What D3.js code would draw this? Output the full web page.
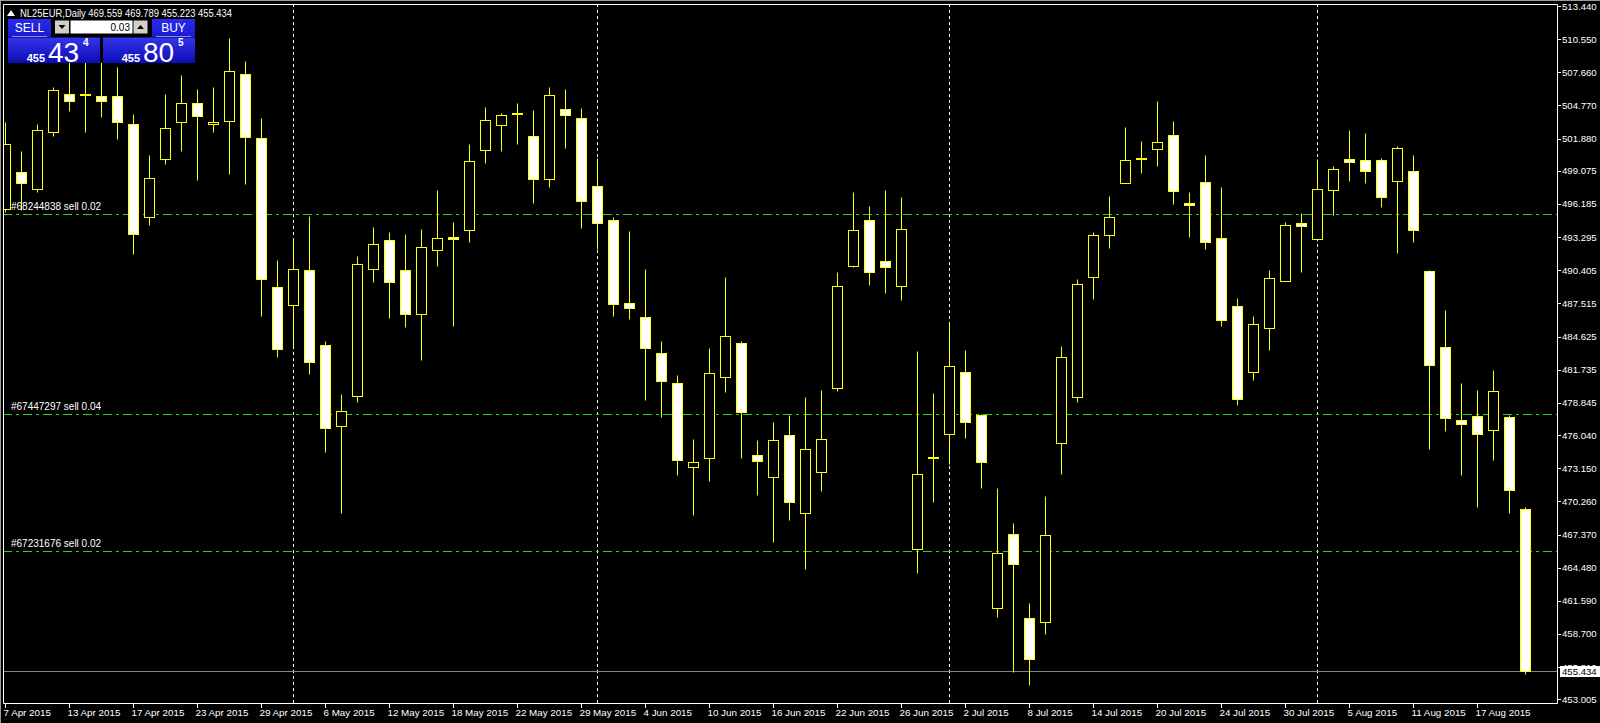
<!DOCTYPE html>
<html><head><meta charset="utf-8">
<script src="https://cdn.jsdelivr.net/npm/d3@7"></script>
<style>html,body{margin:0;padding:0;background:#000;overflow:hidden}</style>
</head><body>
<svg id="c" width="1600" height="723"></svg>
<script>
const dates = [
"2015-04-07","2015-04-08","2015-04-09","2015-04-10","2015-04-13","2015-04-14","2015-04-15","2015-04-16","2015-04-17",
"2015-04-20","2015-04-21","2015-04-22","2015-04-23","2015-04-24","2015-04-27","2015-04-28","2015-04-29","2015-04-30",
"2015-05-04","2015-05-05","2015-05-06","2015-05-07","2015-05-08","2015-05-11","2015-05-12","2015-05-13","2015-05-14",
"2015-05-15","2015-05-18","2015-05-19","2015-05-20","2015-05-21","2015-05-22","2015-05-26","2015-05-27","2015-05-28",
"2015-05-29","2015-06-01","2015-06-02","2015-06-03","2015-06-04","2015-06-05","2015-06-08","2015-06-09","2015-06-10",
"2015-06-11","2015-06-12","2015-06-15","2015-06-16","2015-06-17","2015-06-18","2015-06-19","2015-06-22","2015-06-23",
"2015-06-24","2015-06-25","2015-06-26","2015-06-29","2015-06-30","2015-07-01","2015-07-02","2015-07-03","2015-07-06",
"2015-07-07","2015-07-08","2015-07-09","2015-07-10","2015-07-13","2015-07-14","2015-07-15","2015-07-16","2015-07-17",
"2015-07-20","2015-07-21","2015-07-22","2015-07-23","2015-07-24","2015-07-27","2015-07-28","2015-07-29","2015-07-30",
"2015-07-31","2015-08-03","2015-08-04","2015-08-05","2015-08-06","2015-08-07","2015-08-10","2015-08-11","2015-08-12",
"2015-08-13","2015-08-14","2015-08-17","2015-08-18","2015-08-19","2015-08-20"];
const open = [495.72,498.94,497.46,502.49,505.74,505.74,505.57,505.57,503.13,495.02,500.07,503.30,504.96,503.13,503.39,507.48,
501.90,488.92,487.41,490.40,483.86,476.80,479.42,490.54,493.01,490.40,486.62,492.20,493.28,493.89,500.86,503.04,
504.06,502.08,498.33,504.43,503.65,497.72,494.76,487.52,486.30,483.16,480.55,473.23,474.01,481.07,484.04,474.27,
472.35,476.02,469.22,472.79,480.11,490.75,494.76,491.18,489.00,466.08,474.05,476.10,481.51,477.76,460.94,467.39,
460.06,459.74,475.39,479.33,489.85,493.51,498.04,500.14,500.95,502.17,496.30,498.07,493.19,487.26,481.57,485.34,
489.50,494.49,493.17,497.42,500.08,499.99,499.99,498.22,499.04,490.35,483.70,477.34,477.68,476.52,477.58,469.559];
const high = [503.36,500.80,503.13,506.38,508.60,508.60,508.60,508.12,504.03,500.45,505.77,507.43,506.21,506.38,510.65,508.65,
503.68,491.30,493.19,495.13,484.24,479.62,491.65,494.18,493.74,493.57,494.00,497.40,494.61,501.41,504.64,504.11,
504.99,504.38,506.38,506.21,504.55,500.19,495.05,493.83,490.52,484.24,481.28,475.70,483.63,489.82,484.24,475.61,
477.18,477.79,479.36,479.97,490.25,497.23,496.01,497.40,496.79,483.37,479.71,485.90,483.45,477.85,471.43,468.37,
461.40,470.76,483.80,489.64,493.74,496.88,502.89,501.67,505.16,503.39,497.20,500.45,497.66,487.99,486.39,490.40,
494.61,495.40,500.11,499.50,502.62,502.37,500.20,501.24,500.45,490.39,486.94,480.58,479.97,481.71,477.83,469.789];
const low = [495.51,495.66,497.26,502.11,504.32,502.49,503.79,501.82,491.85,494.38,499.70,500.83,498.30,502.49,498.83,497.95,
486.45,482.87,483.74,481.39,474.59,469.25,478.95,489.41,486.27,485.49,482.61,490.81,485.58,492.90,499.78,500.83,
501.44,496.30,497.69,501.09,494.12,492.26,486.45,486.19,479.13,477.64,472.59,469.07,472.06,479.82,474.07,470.84,
466.72,468.67,464.39,471.19,479.91,490.70,489.15,488.45,487.84,464.05,470.23,473.55,475.81,471.45,460.21,455.36,
454.25,458.67,472.65,478.90,487.90,492.37,498.00,498.91,499.52,496.21,493.33,492.29,485.58,478.68,480.87,483.48,
489.45,490.21,492.96,495.25,498.22,497.97,495.95,491.95,492.90,474.86,476.42,472.60,469.73,473.89,469.21,455.223];
const close = [501.38,497.98,502.63,506.09,505.13,505.65,505.13,503.30,493.54,498.42,502.78,504.96,503.82,503.30,507.74,501.99,
489.67,483.51,490.49,482.38,476.63,478.11,490.92,492.67,489.41,486.62,492.40,493.19,493.10,499.90,503.47,503.91,
504.10,498.39,505.65,503.91,496.41,494.50,487.44,487.09,483.60,480.72,473.84,473.66,481.42,484.65,478.02,473.75,
475.60,470.18,474.80,475.67,489.00,493.89,490.22,490.66,493.97,472.62,474.10,482.03,477.15,473.66,465.73,464.77,
456.49,467.30,482.82,489.18,493.45,495.02,499.99,500.18,501.56,497.29,496.07,492.90,486.10,479.21,485.69,489.70,
494.32,494.24,497.45,499.19,499.87,499.10,496.75,501.03,493.94,482.11,477.55,477.03,476.09,479.88,471.23,455.434];
const priceTicks = ["513.440","510.550","507.660","504.770","501.880","499.075","496.185","493.295","490.405","487.515",
"484.625","481.735","478.845","476.040","473.150","470.260","467.370","464.480","461.590","458.700","455.810","453.005"];
const dateTicks = ["7 Apr 2015","13 Apr 2015","17 Apr 2015","23 Apr 2015","29 Apr 2015","6 May 2015","12 May 2015",
"18 May 2015","22 May 2015","29 May 2015","4 Jun 2015","10 Jun 2015","16 Jun 2015","22 Jun 2015","26 Jun 2015",
"2 Jul 2015","8 Jul 2015","14 Jul 2015","20 Jul 2015","24 Jul 2015","30 Jul 2015","5 Aug 2015","11 Aug 2015","17 Aug 2015"];
const orderLevels = [495.28, 477.85, 465.91];
const orderLabels = ["#68244838 sell 0.02", "#67447297 sell 0.04", "#67231676 sell 0.02"];
const symbolTitle = "NL25EUR,Daily";
const bid = 455.434;
const bidText = "455.434";
const lotText = "0.03";
const sellQuote = ["455", "43", "4"];
const buyQuote = ["455", "80", "5"];

const svg = d3.select("#c");
const W = 1600, H = 723;
const L = 3, T = 4, R = 1557, B = 703;
const font = "'Liberation Sans', Arial, sans-serif";
const parse = d3.timeParse("%Y-%m-%d");
const fmt = d3.timeFormat("%-d %b %Y");

const x = d3.scalePoint().domain(dates).range([5.5, 1525.5]);
const y = d3.scaleLinear().domain([453.005, 513.44]).range([699.3, 6]);
const py = v => Math.round(y(v)) + 0.5;

svg.append("rect").attr("width", W).attr("height", H).attr("fill", "#000");

const defs = svg.append("defs");
defs.append("clipPath").attr("id", "plot").append("rect")
  .attr("x", L + 1).attr("y", T + 1).attr("width", R - L - 1).attr("height", B - T - 1);
const g1 = defs.append("linearGradient").attr("id", "qg").attr("x1", 0).attr("y1", 0).attr("x2", 0).attr("y2", 1);
g1.append("stop").attr("offset", "0").attr("stop-color", "#3434ec");
g1.append("stop").attr("offset", "1").attr("stop-color", "#0c0cb4");
const g2 = defs.append("linearGradient").attr("id", "bg").attr("x1", 0).attr("y1", 0).attr("x2", 0).attr("y2", 1);
g2.append("stop").attr("offset", "0").attr("stop-color", "#2a2aee");
g2.append("stop").attr("offset", "1").attr("stop-color", "#1a1ad2");

// window edge
svg.append("line").attr("x1", 0).attr("x2", W).attr("y1", 0.5).attr("y2", 0.5).attr("stroke", "#9a9a9a");
svg.append("line").attr("x1", 0.5).attr("x2", 0.5).attr("y1", 0).attr("y2", H).attr("stroke", "#9a9a9a");

const plot = svg.append("g").attr("clip-path", "url(#plot)");

// period separators (first bar of each month)
const sepIdx = dates.map((d, i) => i).filter(i => i > 0 && dates[i].slice(5, 7) !== dates[i - 1].slice(5, 7));
plot.selectAll(".sep").data(sepIdx).join("line")
  .attr("x1", i => x(dates[i])).attr("x2", i => x(dates[i]))
  .attr("y1", T).attr("y2", B)
  .attr("stroke", "#fff").attr("stroke-dasharray", "3,3");

// order lines
plot.selectAll(".ord").data(orderLevels).join("line")
  .attr("x1", L).attr("x2", R).attr("y1", d => py(d)).attr("y2", d => py(d))
  .attr("stroke", "#32cd32").attr("stroke-dasharray", "9,4,3,4");

// bid line
plot.append("line").attr("x1", L).attr("x2", R).attr("y1", py(bid)).attr("y2", py(bid)).attr("stroke", "#778899");

// candles
const idx = d3.range(dates.length);
plot.selectAll(".wick").data(idx).join("line")
  .attr("x1", i => x(dates[i])).attr("x2", i => x(dates[i]))
  .attr("y1", i => py(high[i])).attr("y2", i => py(low[i]))
  .attr("stroke", "#ffff00");
plot.selectAll(".body").data(idx).join("rect")
  .attr("x", i => x(dates[i]) - 5).attr("width", 10)
  .attr("y", i => py(Math.max(open[i], close[i])))
  .attr("height", i => py(Math.min(open[i], close[i])) - py(Math.max(open[i], close[i])))
  .attr("fill", i => close[i] >= open[i] ? "#000" : "#fff")
  .attr("stroke", "#ffff00");

// order labels
svg.selectAll(".ordt").data(orderLevels).join("text")
  .attr("x", 11).attr("y", d => py(d) - 5)
  .attr("fill", "#fff").attr("font-family", font).attr("font-size", 10)
  .text((d, i) => orderLabels[i]);

// frame
svg.append("path").attr("d", `M${L + 0.5},${B + 0.5}V${T + 0.5}H${R + 0.5}V${B + 0.5}H${L + 0.5}`)
  .attr("fill", "none").attr("stroke", "#fff");

// price axis
const tickVals = priceTicks.map(Number);
svg.selectAll(".pt").data(tickVals).join("line")
  .attr("x1", R + 1).attr("x2", R + 4).attr("y1", d => py(d)).attr("y2", d => py(d)).attr("stroke", "#fff");
svg.selectAll(".pl").data(tickVals).join("text")
  .attr("x", R + 5).attr("y", d => y(d) + 3.5)
  .attr("fill", "#fff").attr("font-family", font).attr("font-size", 9.6)
  .text((d, i) => priceTicks[i]);
// bid label
svg.append("rect").attr("x", R + 3).attr("y", py(bid) - 5.5).attr("width", 40).attr("height", 11).attr("fill", "#fff");
svg.append("text").attr("x", R + 5).attr("y", y(bid) + 3.5).attr("fill", "#000")
  .attr("font-family", font).attr("font-size", 9.6).text(bidText);

// date axis
const tickIdx = dates.map((d, i) => i).filter(i => dateTicks.includes(fmt(parse(dates[i]))));
svg.selectAll(".dt").data(tickIdx).join("line")
  .attr("x1", i => x(dates[i])).attr("x2", i => x(dates[i])).attr("y1", B + 1).attr("y2", B + 5).attr("stroke", "#fff");
svg.selectAll(".dl").data(tickIdx).join("text")
  .attr("x", i => x(dates[i]) - 2).attr("y", B + 13)
  .attr("fill", "#fff").attr("font-family", font).attr("font-size", 9.8)
  .text(i => dateTicks[dateTicks.indexOf(fmt(parse(dates[i])))]);

// title
svg.append("path").attr("d", "M7,16L11,10L15,16Z").attr("fill", "#fff");
svg.append("text").attr("x", 20).attr("y", 16.5).attr("fill", "#fff").attr("font-family", font).attr("font-size", 10.5)
  .attr("textLength", 212).attr("lengthAdjust", "spacingAndGlyphs")
  .text(`${symbolTitle}  ${open[95].toFixed(3)} ${high[95].toFixed(3)} ${low[95].toFixed(3)} ${close[95].toFixed(3)}`);

// one-click trading panel
const panel = svg.append("g");
panel.append("rect").attr("x", 8).attr("y", 19).attr("width", 187).attr("height", 44).attr("fill", "#000");
[[8, "SELL"], [152, "BUY"]].forEach(([bx, t]) => {
  panel.append("rect").attr("x", bx).attr("y", 19).attr("width", 43).attr("height", 18).attr("fill", "url(#bg)");
  panel.append("line").attr("x1", bx + 4).attr("x2", bx + 39).attr("y1", 36.5).attr("y2", 36.5).attr("stroke", "#8a8aff");
  panel.append("text").attr("x", bx + 21.5).attr("y", 32).attr("text-anchor", "middle")
    .attr("fill", "#fff").attr("font-family", font).attr("font-size", 12).text(t);
});
panel.append("rect").attr("x", 55).attr("y", 20.5).attr("width", 14).attr("height", 13).attr("fill", "#d4d0c8");
panel.append("path").attr("d", "M58.5,25L65.5,25L62,29Z").attr("fill", "#000");
panel.append("rect").attr("x", 70.5).attr("y", 20.5).attr("width", 62).attr("height", 13).attr("fill", "#fff");
panel.append("text").attr("x", 130).attr("y", 31).attr("text-anchor", "end").attr("fill", "#000")
  .attr("font-family", font).attr("font-size", 10).text(lotText);
panel.append("rect").attr("x", 133.5).attr("y", 20.5).attr("width", 14).attr("height", 13).attr("fill", "#d4d0c8");
panel.append("path").attr("d", "M137,29L144,29L140.5,25Z").attr("fill", "#000");
[[8, sellQuote], [103, buyQuote]].forEach(([bx, q]) => {
  panel.append("rect").attr("x", bx).attr("y", 37.5).attr("width", 92).attr("height", 25.5).attr("fill", "url(#qg)");
  panel.append("text").attr("x", bx + 37).attr("y", 62).attr("text-anchor", "end").attr("fill", "#fff")
    .attr("font-family", font).attr("font-weight", "bold").attr("font-size", 11).text(q[0]);
  panel.append("text").attr("x", bx + 40).attr("y", 61.5).attr("fill", "#fff")
    .attr("font-family", font).attr("font-size", 28).text(q[1]);
  panel.append("text").attr("x", bx + 75).attr("y", 45.5).attr("fill", "#fff")
    .attr("font-family", font).attr("font-weight", "bold").attr("font-size", 10).text(q[2]);
});
</script>
</body></html>
